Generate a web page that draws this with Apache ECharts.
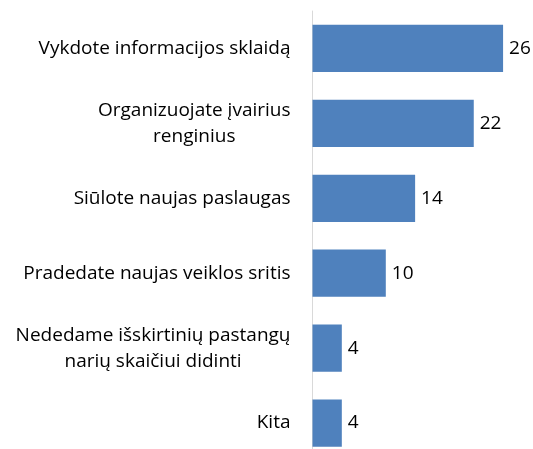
<!DOCTYPE html>
<html><head><meta charset="utf-8">
<script src="https://cdn.jsdelivr.net/npm/echarts@6/dist/echarts.min.js"></script>
<style>html,body{margin:0;padding:0;background:#fff}#c{width:533px;height:449px}</style>
</head><body><div id="c"></div>
<script>
const categories = ["Vykdote informacijos sklaidą", "Organizuojate įvairius\nrenginius", "Siūlote naujas paslaugas", "Pradedate naujas veiklos sritis", "Nededame išskirtinių pastangų\nnarių skaičiui didinti", "Kita"];
const values = [26, 22, 14, 10, 4, 4];

const chart = echarts.init(document.getElementById('c'));
const FONT = 'Open Sans';
chart.setOption({
  animation: false,
  grid: {left: 312.5, top: 11, width: 7.33 * 30, height: 449.5, containLabel: false, outerBoundsMode: 'none'},
  xAxis: {type: 'value', min: 0, max: 30, show: false},
  yAxis: {
    type: 'category', inverse: true, data: categories,
    axisLine: {show: true, lineStyle: {color: '#d9d9d9', width: 1}},
    axisTick: {show: false},
    axisLabel: {
      margin: 22, color: '#000', fontFamily: FONT, fontSize: 19, lineHeight: 26,
      formatter: v => v.split('\n').map(s => '{c|' + s + '}').join('\n'),
      rich: {c: {align: 'center', fontFamily: FONT, fontSize: 19, lineHeight: 26, color: '#000'}}
    }
  },
  series: [{
    type: 'bar', data: values, barCategoryGap: '37%',
    itemStyle: {color: '#4f81bd'},
    label: {show: true, position: 'right', distance: 6, color: '#000', fontFamily: FONT, fontSize: 19}
  }]
});
</script></body></html>
